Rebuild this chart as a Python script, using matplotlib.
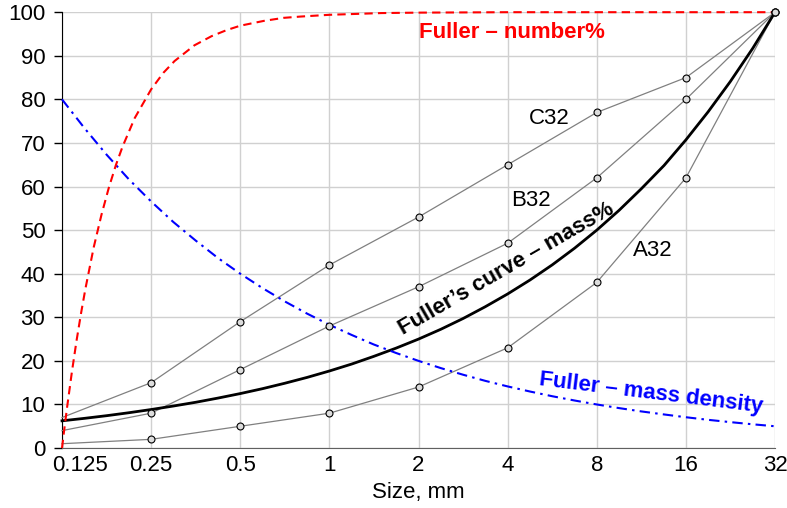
import numpy as np
import matplotlib
matplotlib.use("Agg")
import matplotlib.pyplot as plt
import matplotlib.transforms as mtransforms

plt.rcParams['font.family'] = ['Liberation Sans', 'DejaVu Sans']

# sieve sizes (mm)
sizes = [0.125, 0.25, 0.5, 1, 2, 4, 8, 16, 32]
size_labels = ["0.125", "0.25", "0.5", "1", "2", "4", "8", "16", "32"]

# grading curves, passing %
a32 = [1, 2, 5, 8, 14, 23, 38, 62, 100]
b32 = [4, 8, 18, 28, 37, 47, 62, 80, 100]
c32 = [7, 15, 29, 42, 53, 65, 77, 85, 100]

# Fuller curves read at quarter-octave steps
q_sizes = [0.125, 0.149, 0.177, 0.210, 0.25, 0.297, 0.354, 0.420, 0.5,
           0.595, 0.707, 0.841, 1, 1.19, 1.41, 1.68, 2, 2.38, 2.83, 3.36,
           4, 4.76, 5.66, 6.73, 8, 9.51, 11.3, 13.5, 16, 19.0, 22.6, 26.9, 32]
fuller_mass = [6.25, 6.82, 7.43, 8.10, 8.84, 9.64, 10.51, 11.46, 12.5,
               13.63, 14.87, 16.21, 17.68, 19.28, 21.02, 22.93, 25.0, 27.26,
               29.73, 32.42, 35.36, 38.56, 42.04, 45.85, 50.0, 54.53, 59.46,
               64.84, 70.71, 77.11, 84.09, 91.70, 100]
fuller_density = [80, 73.36, 67.27, 61.69, 56.57, 51.87, 47.57, 43.62, 40.0,
                  36.68, 33.64, 30.84, 28.28, 25.94, 23.78, 21.81, 20.0, 18.34,
                  16.82, 15.42, 14.14, 12.97, 11.89, 10.91, 10.0, 9.17, 8.41,
                  7.71, 7.07, 6.48, 5.95, 5.45, 5.0]

num_sizes = [0.125, 0.127, 0.13, 0.135, 0.14, 0.145, 0.15, 0.16, 0.17, 0.18,
             0.19, 0.2, 0.22, 0.25, 0.275, 0.3, 0.35, 0.4, 0.45, 0.5, 0.6,
             0.7, 0.8, 1, 1.5, 2, 4, 8, 16, 32]
fuller_number = [0, 3.9, 9.3, 17.5, 24.7, 31.0, 36.6, 46.1, 53.6, 59.8,
                 64.9, 69.1, 75.7, 82.3, 86.1, 88.8, 92.4, 94.5, 95.9, 96.9,
                 98.0, 98.7, 99.0, 99.4, 99.8, 99.9, 100, 100, 100, 100]

fig = plt.figure(figsize=(7.87, 5.08), dpi=100)
ax = fig.add_axes([0.0788, 0.118, 0.9060, 0.858])
ax.set_xscale('log', base=2)

for serie in (a32, b32, c32):
	ax.plot(sizes, serie, color='#808080', lw=0.9, zorder=3, clip_on=False)
	ax.plot(sizes[1:], serie[1:], ls='none', marker='o', ms=5,
			mfc='#dcdcdc', mec='black', mew=0.8, zorder=6, clip_on=False)

ax.plot(q_sizes, fuller_mass, color='black', lw=2, zorder=5, clip_on=False)
ax.plot(q_sizes, fuller_density, color='blue', lw=1.5,
		dashes=(5, 2.5, 1.2, 2.5), zorder=5, clip_on=False)
ax.plot(num_sizes, fuller_number, color='red', lw=1.5,
		dashes=(4, 2.5), zorder=5, clip_on=False)

ax.text(2.0, 95.4, "Fuller \u2013 number%", color='red', fontsize=16,
		fontweight='bold', va='center', ha='left')
ax.text(5.53, 75.7, "C32", fontsize=16, ha='center', va='center')
ax.text(4.8, 56.7, "B32", fontsize=16, ha='center', va='center')
ax.text(12.4, 45.4, "A32", fontsize=16, ha='center', va='center')
ax.text(3.95, 41.0, "Fuller\u2019s curve \u2013 mass%", fontsize=16,
		fontweight='bold', rotation=30, ha='center', va='center',
		rotation_mode='anchor')
ax.text(12.2, 12.6, "Fuller \u2013 mass density", color='blue', fontsize=16,
		fontweight='bold', rotation=-7, ha='center', va='center',
		rotation_mode='anchor')

ax.set_xlim(0.125, 32)
ax.set_ylim(0, 100)
ax.set_xticks(sizes)
ax.set_xticklabels(size_labels)
ax.minorticks_off()
ax.set_yticks(range(0, 101, 10))
ax.tick_params(axis='x', length=0, pad=5, labelsize=16)
ax.tick_params(axis='y', length=6, width=1, pad=6, labelsize=16, direction='out')
ax.set_xlabel("Size, mm", fontsize=16, labelpad=4)

# first label sits to the right of its tick
first = ax.get_xticklabels()[0]
first.set_horizontalalignment('left')
first.set_transform(first.get_transform() +
					mtransforms.ScaledTranslation(-0.10, 0, fig.dpi_scale_trans))

ax.grid(True, color='#d0d0d0', lw=1)
ax.set_axisbelow(True)
for side in ('top', 'right'):
	ax.spines[side].set_visible(False)
ax.spines['bottom'].set_color('#606060')
ax.spines['left'].set_color('black')

fig.savefig("out.png", dpi=100)
